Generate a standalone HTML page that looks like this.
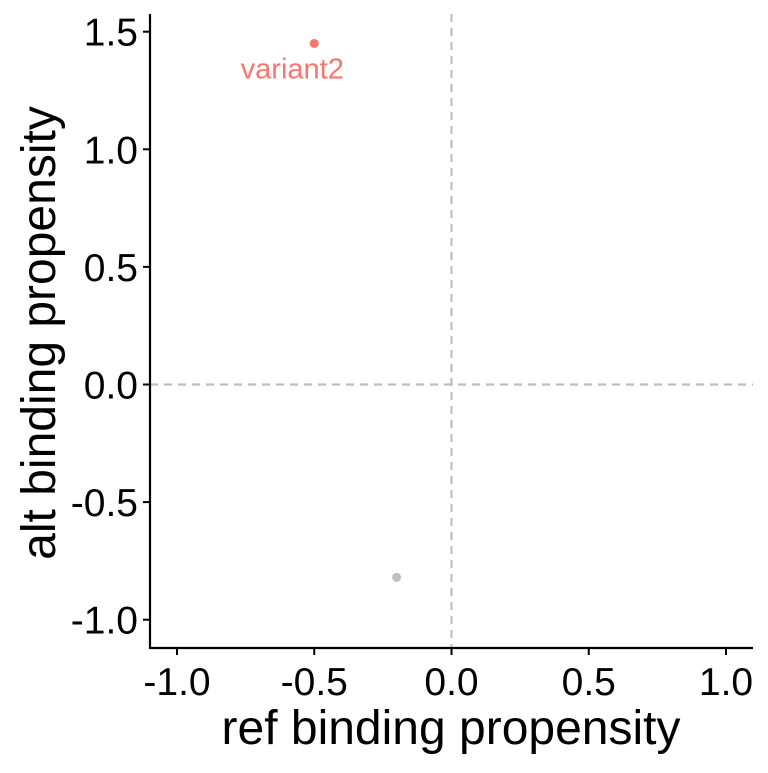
<!DOCTYPE html>
<html><head><meta charset="utf-8"><style>
html,body{margin:0;padding:0;background:#fff;}
svg text{font-family:"Liberation Sans",sans-serif;}
</style></head><body>
<svg id="chart" width="768" height="768" xmlns="http://www.w3.org/2000/svg">
</svg>
<script>
const xTicks=[-1.0,-0.5,0.0,0.5,1.0];
const yTicks=[-1.0,-0.5,0.0,0.5,1.0,1.5];
const tickLabels=["-1.0","-0.5","0.0","0.5","1.0","1.5"];
const pointX=[-0.5,-0.2];
const pointY=[1.45,-0.82];
const pointLabels=["variant2",""];
const pointColors=["#F8766D","#BEBEBE"];

const svg=document.getElementById('chart');
const NS="http://www.w3.org/2000/svg";
const sx=v=>451.5+v*274.5;
const sy=v=>384.5-v*235.2;
const L=150,R=753,T=14,B=648;
function mk(t,a,txt){const e=document.createElementNS(NS,t);for(const k in a)e.setAttribute(k,a[k]);if(txt!==undefined)e.textContent=txt;svg.appendChild(e);return e;}

let e;
e=mk('line',{x1:sx(0),x2:sx(0),y1:T,y2:B,stroke:'#BEBEBE','stroke-width':2.2,'stroke-dasharray':'8,6'});


e=mk('line',{x1:L,x2:R,y1:sy(0),y2:sy(0),stroke:'#BEBEBE','stroke-width':2.2,'stroke-dasharray':'8,6'});



e=mk('line',{x1:L,x2:L,y1:T,y2:B+1,stroke:'#000','stroke-width':2.2});


e=mk('line',{x1:L-1,x2:R,y1:B,y2:B,stroke:'#000','stroke-width':2.2});



xTicks.forEach((v,i)=>{
  e=mk('line',{x1:sx(v),x2:sx(v),y1:B,y2:B+7,stroke:'#000','stroke-width':2});
  
  
  e=mk('text',{x:sx(v),y:695,'font-size':39,'text-anchor':'middle',fill:'#000'},tickLabels[i]);
  
  
});
yTicks.forEach((v,i)=>{
  e=mk('line',{x1:L-7,x2:L,y1:sy(v),y2:sy(v),stroke:'#000','stroke-width':2});
  
  
  e=mk('text',{x:138,y:sy(v)+14,'font-size':39,'text-anchor':'end',fill:'#000'},tickLabels[i]);
  
  
});

pointX.forEach((v,i)=>{
  e=mk('circle',{cx:sx(v),cy:sy(pointY[i]),r:4.5,fill:pointColors[i]});
  
  
  if(pointLabels[i]){
    e=mk('text',{x:sx(v)-22,y:sy(pointY[i])+35,'font-size':29,'text-anchor':'middle',fill:pointColors[i]},pointLabels[i]);
    
    
  }
});

e=mk('text',{x:451,y:744,'font-size':48,'text-anchor':'middle',fill:'#000'},'ref binding propensity');


e=mk('text',{x:0,y:0,'font-size':48,'text-anchor':'middle',fill:'#000',transform:'translate(55,333) rotate(-90)'},'alt binding propensity');


</script>
</body></html>
